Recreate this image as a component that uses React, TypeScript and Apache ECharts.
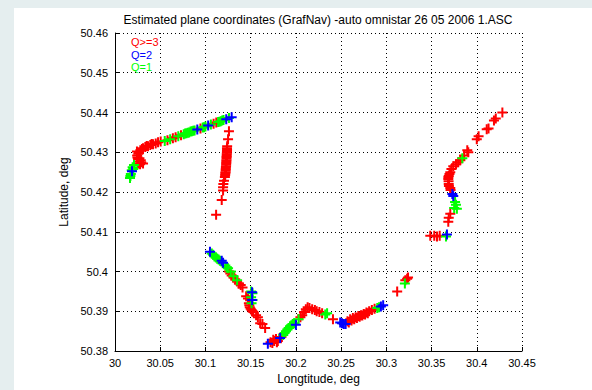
import React, { useEffect, useRef } from "react";
import * as echarts from "echarts";

const chartTitle = "Estimated plane coordinates (GrafNav) -auto omnistar 26 05 2006 1.ASC";
const xName = "Longtitude, deg";
const yName = "Latitude, deg";
const xTicks = { min: 30, max: 30.45, interval: 0.05 };
const yTicks = { min: 50.38, max: 50.46, interval: 0.01 };
const legendLabels = ["Q>=3", "Q=2", "Q=1"];
const seriesColors = ["#ff0000", "#0000ff", "#00ff00"];

// Q>=3 (red) points [lon, lat]
const redPoints: [number, number][] = [
  // top-left hook
  [30.0243, 50.4302], [30.0245, 50.4292], [30.0255, 50.4283], [30.0262, 50.4277], [30.0277, 50.427],
  [30.029, 50.4275], [30.031, 50.4272], [30.0265, 50.4298], [30.028, 50.4305], [30.031, 50.431],
  [30.0248, 50.4287], [30.0258, 50.4296], [30.027, 50.4285], [30.0285, 50.428], [30.0255, 50.4272],
  [30.0335, 50.4313], [30.0365, 50.4315], [30.039, 50.4318], [30.042, 50.432], [30.045, 50.4322],
  [30.0476, 50.4325], [30.0505, 50.4327], [30.0298, 50.4308], [30.035, 50.4316], [30.0405, 50.4321],
  // top line
  [30.058, 50.433], [30.064, 50.4335], [30.067, 50.4338], [30.073, 50.4343], [30.0945, 50.436],
  [30.109, 50.4372], [30.112, 50.4375],
  // vertical drop
  [30.126, 50.4353], [30.125, 50.4333], [30.124, 50.4315], [30.1238, 50.431], [30.1238, 50.4303],
  [30.1236, 50.4295], [30.1234, 50.4288], [30.1232, 50.428], [30.123, 50.4273], [30.1228, 50.4265],
  [30.1225, 50.4258], [30.1222, 50.425], [30.1218, 50.4243], [30.1205, 50.4228], [30.1198, 50.422],
  [30.1239, 50.4306], [30.1237, 50.4299], [30.1235, 50.4291], [30.1233, 50.4284], [30.1231, 50.4277],
  [30.1229, 50.4269], [30.1226, 50.4262], [30.1224, 50.4254], [30.122, 50.4247], [30.1215, 50.4238],
  [30.1195, 50.4212], [30.1195, 50.4204], [30.118, 50.418], [30.1118, 50.4143],
  // middle diagonal
  [30.126, 50.4], [30.129, 50.399], [30.133, 50.398], [30.137, 50.397], [30.141, 50.396],
  [30.1275, 50.3995], [30.131, 50.3985], [30.135, 50.3975], [30.139, 50.3966],
  [30.145, 50.3938], [30.147, 50.3932], [30.148, 50.392], [30.149, 50.391], [30.151, 50.3903],
  [30.1485, 50.3915], [30.15, 50.3906], [30.152, 50.39],
  [30.153, 50.3898], [30.156, 50.389], [30.158, 50.3885], [30.1605, 50.387], [30.163, 50.3868],
  [30.166, 50.3858],
  // bottom V
  [30.172, 50.3822], [30.174, 50.382], [30.176, 50.3825], [30.178, 50.383], [30.18, 50.3825],
  [30.182, 50.3833], [30.184, 50.3835], [30.175, 50.3828], [30.179, 50.3822],
  [30.205, 50.3885], [30.207, 50.389], [30.209, 50.3898],
  [30.211, 50.3905], [30.213, 50.391], [30.215, 50.3908], [30.218, 50.3905], [30.221, 50.3903],
  [30.223, 50.39], [30.226, 50.3898], [30.229, 50.3895], [30.241, 50.388],
  [30.257, 50.3875], [30.26, 50.388], [30.263, 50.3883], [30.266, 50.3885], [30.269, 50.3888],
  [30.272, 50.389], [30.275, 50.3893], [30.278, 50.3897], [30.281, 50.39], [30.284, 50.3903],
  [30.2585, 50.3872], [30.2615, 50.3877], [30.2645, 50.388], [30.2675, 50.3883], [30.2705, 50.3886],
  [30.2735, 50.3889], [30.2765, 50.3892], [30.2795, 50.3895],
  [30.287, 50.3906], [30.312, 50.395], [30.321, 50.3978], [30.323, 50.3982], [30.324, 50.3985],
  // right track
  [30.3486, 50.409], [30.353, 50.409], [30.356, 50.4088], [30.359, 50.409], [30.3685, 50.4125],
  [30.369, 50.4135], [30.3707, 50.4145], [30.371, 50.4205], [30.3707, 50.421], [30.369, 50.422],
  [30.3685, 50.4233], [30.369, 50.424], [30.3707, 50.425], [30.372, 50.4258], [30.374, 50.4265],
  [30.3688, 50.4227], [30.3686, 50.4237], [30.3698, 50.4245], [30.3692, 50.4215],
  [30.377, 50.427], [30.3795, 50.4275], [30.3818, 50.428], [30.386, 50.4292], [30.3895, 50.4305],
  [30.3906, 50.43], [30.4, 50.4333], [30.402, 50.434], [30.411, 50.4358], [30.413, 50.436],
  [30.419, 50.438], [30.421, 50.4385], [30.4283, 50.44],
];

// Q=1 (green) points [lon, lat]
const greenPoints: [number, number][] = [
  [30.0166, 50.4235], [30.0175, 50.4245], [30.0185, 50.4255], [30.0195, 50.4262], [30.021, 50.4268],
  [30.017, 50.424], [30.0202, 50.4258],
  [30.055, 50.4328], [30.061, 50.4333], [30.07, 50.434], [30.076, 50.4345], [30.079, 50.4348],
  [30.082, 50.435], [30.085, 50.4353], [30.088, 50.4355], [30.097, 50.4362], [30.1, 50.4365],
  [30.0775, 50.4347], [30.0805, 50.4349], [30.0835, 50.4352], [30.0865, 50.4354], [30.0985, 50.4363],
  [30.106, 50.437], [30.114, 50.4376], [30.117, 50.4378], [30.12, 50.4381], [30.126, 50.4386],
  [30.1155, 50.4377], [30.1185, 50.438],
  [30.107, 50.4045], [30.11, 50.4038], [30.113, 50.4032], [30.116, 50.4027], [30.122, 50.4015],
  [30.1085, 50.4042], [30.1115, 50.4035], [30.1145, 50.403], [30.1235, 50.4011],
  [30.125, 50.4008], [30.128, 50.4], [30.131, 50.3988], [30.135, 50.3978],
  [30.1505, 50.395], [30.152, 50.3945], [30.1505, 50.3935], [30.152, 50.3928], [30.151, 50.392],
  [30.186, 50.384], [30.189, 50.385], [30.192, 50.3858], [30.195, 50.3865], [30.198, 50.387],
  [30.1875, 50.3845], [30.1905, 50.3854], [30.1935, 50.3862], [30.1965, 50.3868],
  [30.203, 50.388], [30.2325, 50.3892], [30.2345, 50.3895], [30.29, 50.3908], [30.292, 50.391],
  [30.3205, 50.397], [30.366, 50.4088], [30.375, 50.416], [30.378, 50.4158], [30.377, 50.4168],
  [30.376, 50.4175], [30.384, 50.4285],
];

// Q=2 (blue) points [lon, lat]
const bluePoints: [number, number][] = [
  [30.0188, 50.4252], [30.091, 50.4357], [30.103, 50.4367], [30.123, 50.4383], [30.129, 50.4388],
  [30.105, 50.405], [30.118, 50.4027], [30.1195, 50.4022], [30.1516, 50.3948], [30.1516, 50.3928],
  [30.169, 50.3818], [30.1826, 50.3833], [30.2, 50.3866], [30.249, 50.3872], [30.251, 50.387],
  [30.253, 50.3868], [30.255, 50.3868], [30.294, 50.3912], [30.2965, 50.3915], [30.367, 50.4093],
  [30.373, 50.4195], [30.374, 50.419],
];

const plus = "path://M4,0H6V4H10V6H6V10H4V6H0V4H4Z";
const font = "Liberation Sans, Arial, sans-serif";

export default function App() {
  const ref = useRef<HTMLDivElement>(null);
  useEffect(() => {
    document.body.style.margin = "0";
    const chart = echarts.init(ref.current!, undefined, { renderer: "svg" });
    const mk = (name: string, data: [number, number][], color: string) => ({
      name,
      type: "scatter",
      data,
      symbol: plus,
      symbolSize: 10,
      itemStyle: { color, opacity: 1 },
      silent: true,
    });
    chart.setOption({
      animation: false,
      backgroundColor: "#e5eeef",
      textStyle: { fontFamily: font },
      grid: { left: 115, right: 70, top: 33, bottom: 37 },
      graphic: [
        { type: "rect", z: -100, silent: true, shape: { x: 14, y: 8, width: 578, height: 382 }, style: { fill: "#ffffff" } },
        { type: "text", x: 318, y: 20, style: { text: chartTitle, fill: "#000", font: `12px ${font}`, textAlign: "center", textVerticalAlign: "middle" } },
        { type: "text", x: 131, y: 42, style: { text: legendLabels[0], fill: seriesColors[0], font: `11px ${font}`, textVerticalAlign: "middle" } },
        { type: "text", x: 131, y: 54.5, style: { text: legendLabels[1], fill: seriesColors[1], font: `11px ${font}`, textVerticalAlign: "middle" } },
        { type: "text", x: 131, y: 67, style: { text: legendLabels[2], fill: seriesColors[2], font: `11px ${font}`, textVerticalAlign: "middle" } },
      ],
      xAxis: {
        type: "value",
        min: xTicks.min,
        max: xTicks.max,
        interval: xTicks.interval,
        name: xName,
        nameLocation: "middle",
        nameGap: 22,
        nameTextStyle: { color: "#000", fontSize: 12, fontFamily: font },
        axisLine: { show: true, onZero: false, lineStyle: { color: "#000", width: 1 } },
        axisTick: { show: true, inside: true, length: 4, lineStyle: { color: "#000" } },
        axisLabel: { color: "#000", fontSize: 11, fontFamily: font, margin: 6 },
        splitLine: { show: true, lineStyle: { color: "#000", type: [1, 3], width: 1 } },
      },
      yAxis: {
        type: "value",
        min: yTicks.min,
        max: yTicks.max,
        interval: yTicks.interval,
        name: yName,
        nameLocation: "middle",
        nameGap: 41,
        nameTextStyle: { color: "#000", fontSize: 12, fontFamily: font },
        axisLine: { show: true, onZero: false, lineStyle: { color: "#000", width: 1 } },
        axisTick: { show: true, inside: true, length: 4, lineStyle: { color: "#000" } },
        axisLabel: { color: "#000", fontSize: 11, fontFamily: font, margin: 7 },
        splitLine: { show: true, lineStyle: { color: "#000", type: [1, 3], width: 1 } },
      },
      series: [
        mk(legendLabels[0], redPoints, seriesColors[0]),
        mk(legendLabels[2], greenPoints, seriesColors[2]),
        mk(legendLabels[1], bluePoints, seriesColors[1]),
      ],
    });
    return () => chart.dispose();
  }, []);
  return <div ref={ref} style={{ position: "fixed", left: 0, top: 0, width: 592, height: 390 }} />;
}
